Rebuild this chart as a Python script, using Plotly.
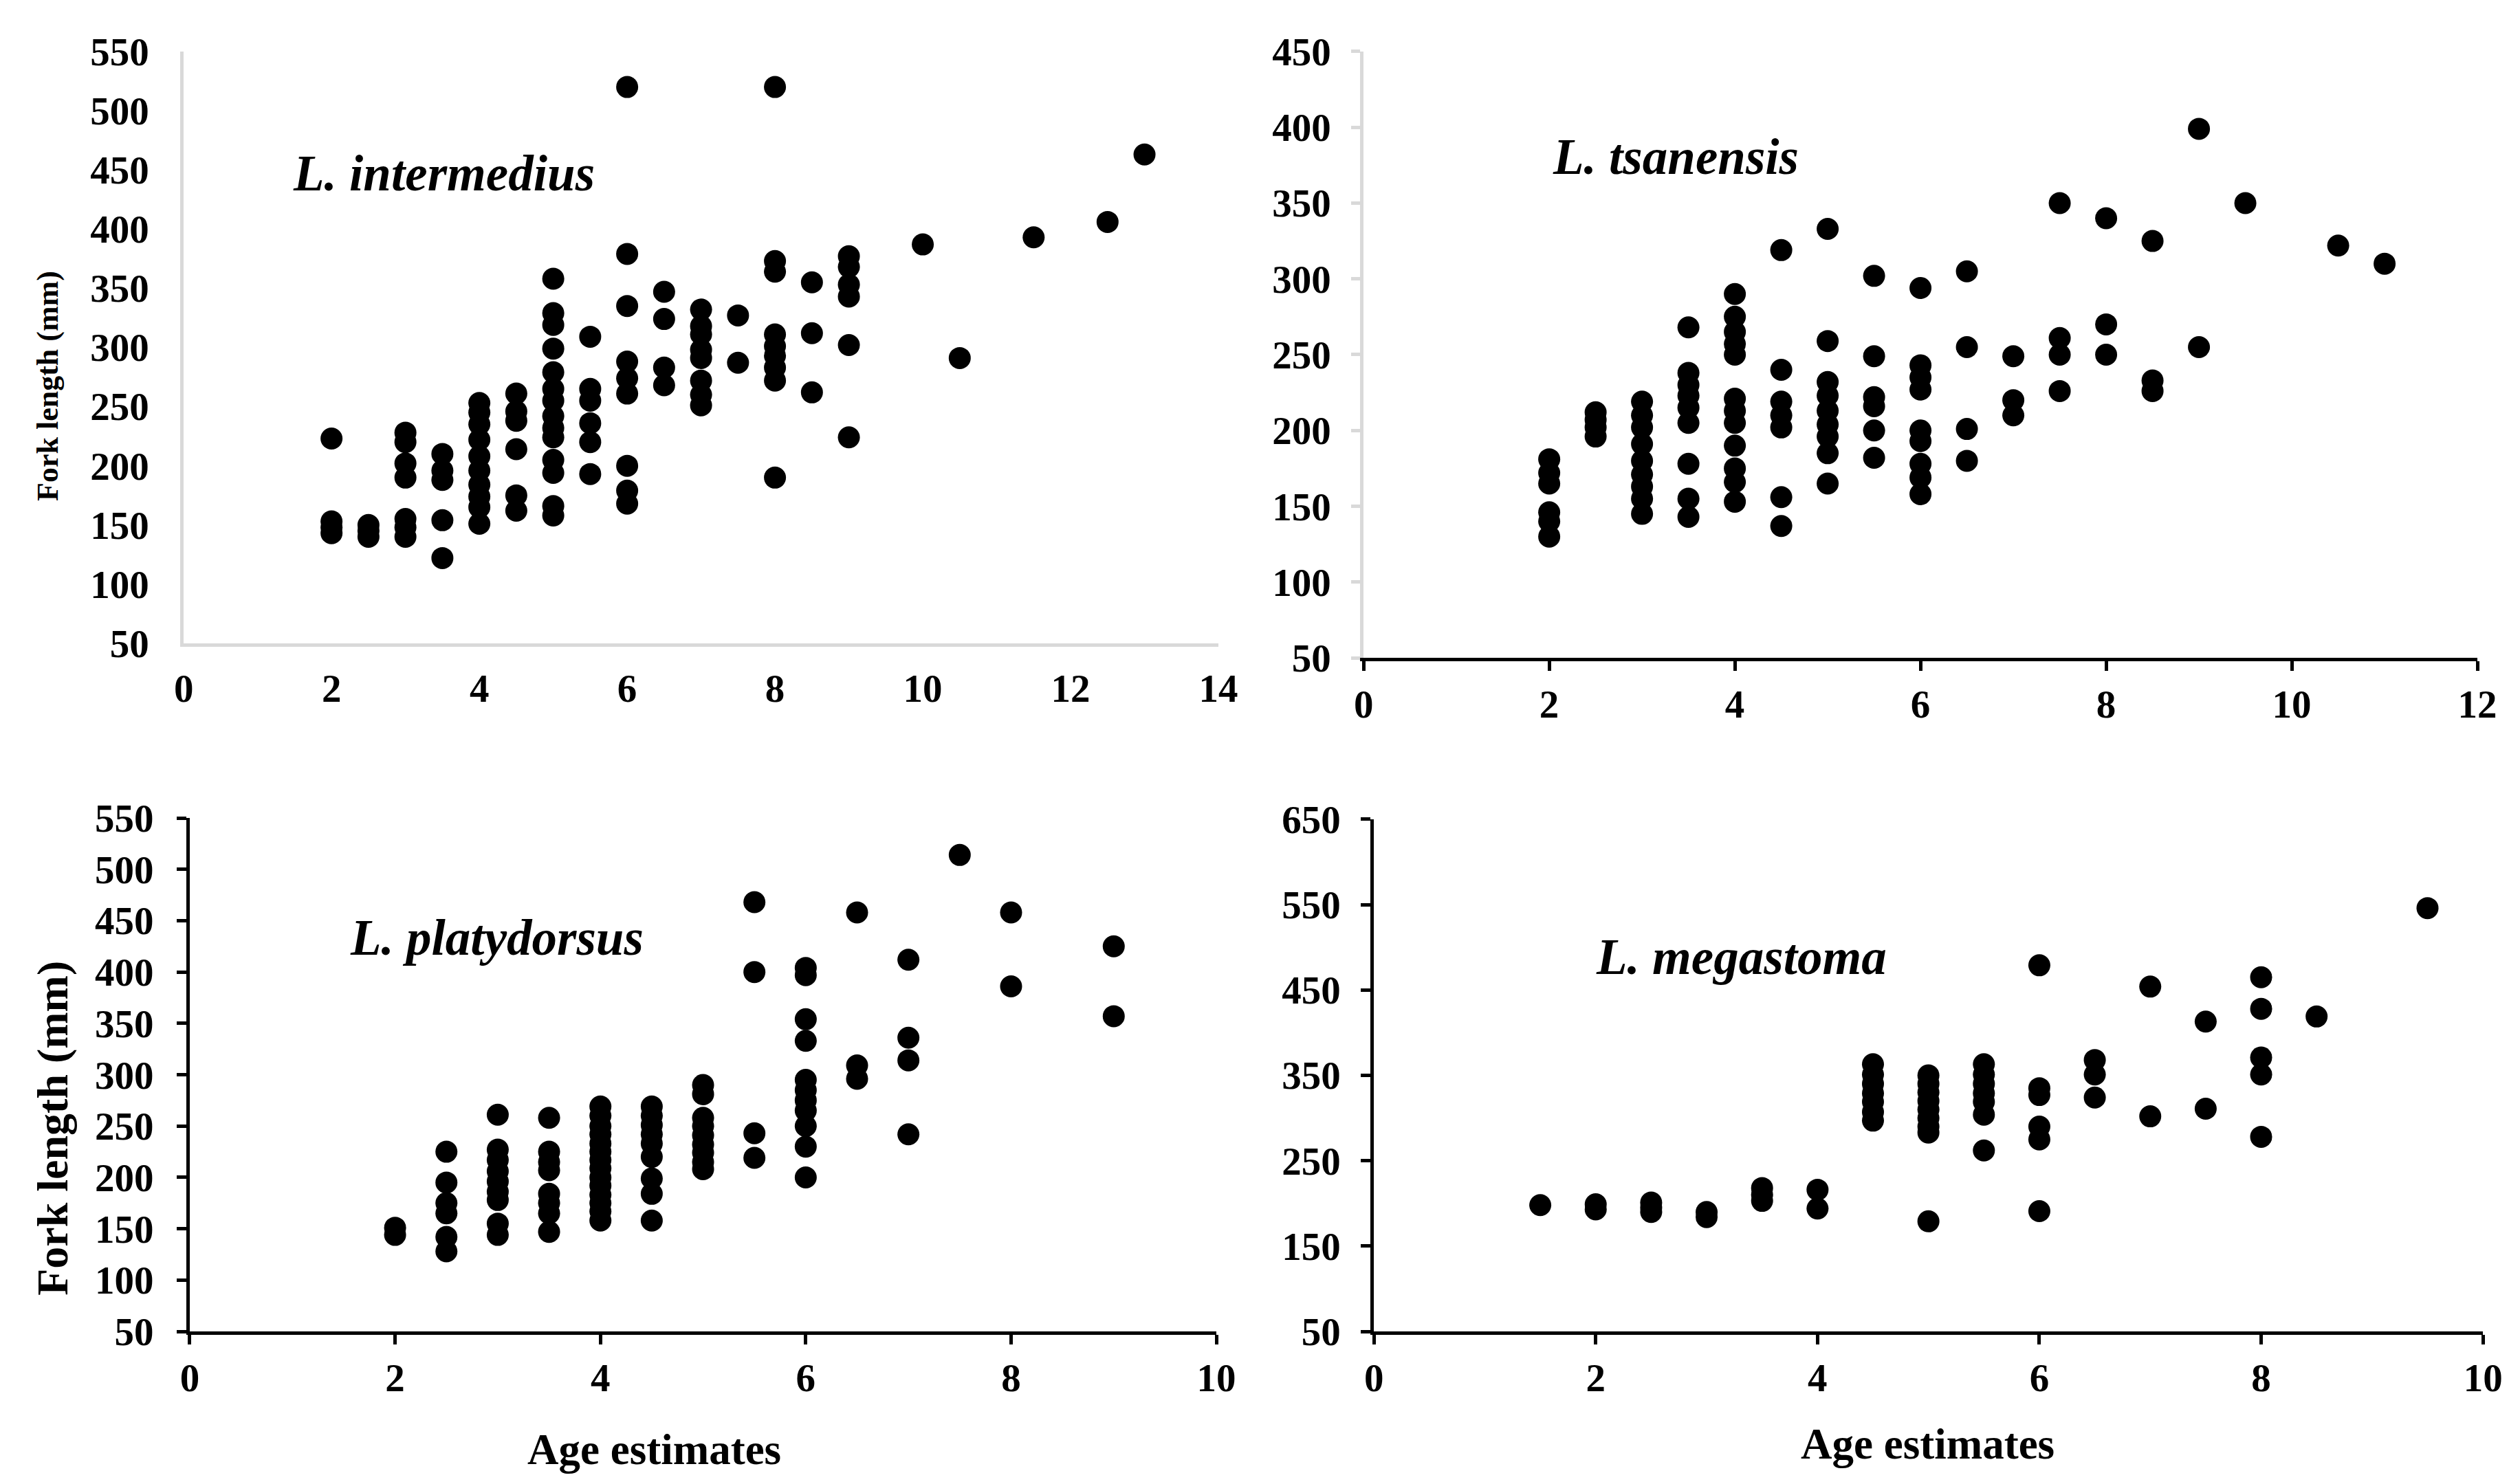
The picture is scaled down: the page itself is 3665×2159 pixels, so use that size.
import plotly.graph_objects as go

# ---------------- data ----------------
# L. intermedius
inter_age = [2, 2, 2, 2,
             2.5, 2.5, 2.5,
             3, 3, 3, 3, 3, 3, 3,
             3.5, 3.5, 3.5, 3.5, 3.5,
             4, 4, 4, 4, 4, 4, 4, 4, 4, 4,
             4.5, 4.5, 4.5, 4.5, 4.5, 4.5,
             5, 5, 5, 5, 5, 5, 5, 5, 5, 5, 5, 5, 5, 5,
             5.5, 5.5, 5.5, 5.5, 5.5, 5.5,
             6, 6, 6, 6, 6, 6, 6, 6, 6,
             6.5, 6.5, 6.5, 6.5,
             7, 7, 7, 7, 7, 7, 7, 7,
             7.5, 7.5,
             8, 8, 8, 8, 8, 8, 8, 8, 8,
             8.5, 8.5, 8.5,
             9, 9, 9, 9, 9, 9,
             10, 10.5, 11.5, 12.5, 13]
inter_len = [223, 153, 148, 143,
             150, 145, 140,
             228, 220, 202, 190, 155, 148, 140,
             210, 196, 188, 154, 122,
             253, 245, 235, 222, 208, 196, 184, 174, 165, 151,
             261, 246, 238, 214, 175, 162,
             358, 329, 319, 299, 279, 265, 255, 242, 232, 224, 205, 194, 166, 158,
             309, 265, 255, 236, 220, 193,
             520, 379, 335, 288, 274, 261, 200, 179, 168,
             347, 324, 283, 268,
             332, 318, 311, 298, 291, 272, 260, 251,
             327, 287,
             520, 373, 364, 311, 301, 293, 283, 272, 190,
             355, 312, 262,
             377, 368, 353, 343, 302, 224,
             387, 291, 393, 406, 463]

# L. tsanensis
tsan_age = [2, 2, 2, 2, 2, 2,
            2.5, 2.5, 2.5, 2.5,
            3, 3, 3, 3, 3, 3, 3, 3, 3,
            3.5, 3.5, 3.5, 3.5, 3.5, 3.5, 3.5, 3.5, 3.5,
            4, 4, 4, 4, 4, 4, 4, 4, 4, 4, 4, 4,
            4.5, 4.5, 4.5, 4.5, 4.5, 4.5, 4.5,
            5, 5, 5, 5, 5, 5, 5, 5, 5,
            5.5, 5.5, 5.5, 5.5, 5.5, 5.5,
            6, 6, 6, 6, 6, 6, 6, 6, 6,
            6.5, 6.5, 6.5, 6.5,
            7, 7, 7,
            7.5, 7.5, 7.5, 7.5,
            8, 8, 8,
            8.5, 8.5, 8.5,
            9, 9, 9.5, 10.5, 11]
tsan_len = [181, 172, 165, 146, 140, 130,
            212, 207, 202, 196,
            219, 210, 202, 191, 180, 171, 163, 155, 145,
            268, 238, 230, 223, 215, 205, 178, 155, 143,
            290, 275, 265, 257, 250, 221, 213, 205, 190, 175, 166, 153,
            319, 240, 219, 210, 202, 156, 137,
            333, 259, 232, 223, 213, 204, 196, 185, 165,
            302, 249, 222, 216, 200, 182,
            294, 243, 235, 227, 200, 193, 178, 169, 158,
            305, 255, 201, 180,
            249, 220, 210,
            350, 261, 250, 226,
            340, 270, 250,
            325, 233, 226,
            399, 255, 350, 322, 310]

# L. platydorsus
platy_age = [2, 2,
             2.5, 2.5, 2.5, 2.5, 2.5, 2.5,
             3, 3, 3, 3, 3, 3, 3, 3, 3,
             3.5, 3.5, 3.5, 3.5, 3.5, 3.5, 3.5, 3.5,
             4, 4, 4, 4, 4, 4, 4, 4, 4, 4, 4, 4, 4, 4,
             4.5, 4.5, 4.5, 4.5, 4.5, 4.5, 4.5, 4.5, 4.5,
             5, 5, 5, 5, 5, 5, 5, 5, 5,
             5.5, 5.5, 5.5, 5.5,
             6, 6, 6, 6, 6, 6, 6, 6, 6, 6, 6,
             6.5, 6.5, 6.5,
             7, 7, 7, 7,
             7.5, 8, 8, 9, 9]
platy_len = [151, 144,
             225, 195, 175, 165, 142, 128,
             261, 227, 217, 206, 196, 186, 178, 155, 144,
             258, 225, 215, 207, 184, 175, 165, 147,
             269, 260, 250, 242, 233, 225, 217, 209, 200, 192, 183, 175, 167, 158,
             269, 260, 251, 242, 233, 220, 199, 184, 158,
             290, 281, 258, 250, 241, 232, 224, 215, 208,
             468, 400, 243, 219,
             404, 397, 354, 333, 295, 285, 275, 265, 250, 230, 200,
             458, 309, 296,
             412, 336, 314, 242,
             514, 458, 386, 425, 357]

# L. megastoma
mega_age = [1.5, 2, 2,
            2.5, 2.5, 2.5,
            3, 3,
            3.5, 3.5, 3.5,
            4, 4,
            4.5, 4.5, 4.5, 4.5, 4.5, 4.5, 4.5,
            5, 5, 5, 5, 5, 5, 5, 5, 5,
            5.5, 5.5, 5.5, 5.5, 5.5, 5.5, 5.5,
            6, 6, 6, 6, 6, 6,
            6.5, 6.5, 6.5,
            7, 7,
            7.5, 7.5,
            8, 8, 8, 8, 8,
            8.5, 9.5]
mega_len = [198, 199, 193,
            201, 195, 190,
            190, 184,
            218, 210, 203,
            216, 194,
            363, 351, 340, 329, 319, 307, 297,
            350, 340, 330, 320, 310, 300, 290, 283, 179,
            363, 351, 340, 329, 319, 304, 262,
            479, 335, 327, 290, 275, 191,
            368, 351, 324,
            454, 302,
            413, 311,
            465, 428, 371, 351, 278,
            419, 546]

x_ticks_top_left = [0, 2, 4, 6, 8, 10, 12, 14]
x_ticks_top_right = [0, 2, 4, 6, 8, 10, 12]
x_ticks_bottom = [0, 2, 4, 6, 8, 10]
y_ticks_p1 = [50, 100, 150, 200, 250, 300, 350, 400, 450, 500, 550]
y_ticks_p2 = [50, 100, 150, 200, 250, 300, 350, 400, 450]
y_ticks_p3 = [50, 100, 150, 200, 250, 300, 350, 400, 450, 500, 550]
y_ticks_p4 = [50, 150, 250, 350, 450, 550, 650]

species = ["L. intermedius", "L. tsanensis", "L. platydorsus", "L. megastoma"]
y_title = "Fork length (mm)"
x_title = "Age estimates"

# ---------------- figure ----------------
FONT = "Liberation Serif"
TICKFONT = dict(family=FONT, size=57, color="black", weight="bold")
GRAY = "#d9d9d9"

fig = go.Figure()
series = [(inter_age, inter_len, "x", "y"),
          (tsan_age, tsan_len, "x2", "y2"),
          (platy_age, platy_len, "x3", "y3"),
          (mega_age, mega_len, "x4", "y4")]
for (xs, ys, xa, ya), name in zip(series, species):
    fig.add_trace(go.Scatter(x=xs, y=ys, mode="markers", name=name,
                             xaxis=xa, yaxis=ya,
                             marker=dict(size=32, color="black", line=dict(width=0)),
                             showlegend=False))


def xaxis(domain, anchor, rng, ticks, color, tickcolor, ticklen, standoff):
    return dict(domain=domain, anchor=anchor, range=rng, tickvals=ticks,
                showgrid=False, zeroline=False, showline=True, linecolor=color,
                linewidth=5, ticks="outside" if ticklen else "", ticklen=ticklen,
                tickwidth=5, tickcolor=tickcolor, tickfont=TICKFONT,
                ticklabelstandoff=standoff, fixedrange=True, automargin=False)


def yaxis(domain, anchor, rng, ticks, color, tickcolor, ticklen, standoff):
    return dict(domain=domain, anchor=anchor, range=rng, tickvals=ticks,
                showgrid=False, zeroline=False, showline=True, linecolor=color,
                linewidth=5, ticks="outside" if ticklen else "", ticklen=ticklen,
                tickwidth=5, tickcolor=tickcolor, tickfont=TICKFONT,
                ticklabelstandoff=standoff, fixedrange=True, automargin=False)


fig.update_layout(
    template="none",
    width=3665, height=2159,
    margin=dict(l=0, r=0, t=0, b=0, pad=0),
    paper_bgcolor="white", plot_bgcolor="white",
    xaxis=xaxis([0.0729, 0.4835], "y", [0, 14], x_ticks_top_left, GRAY, GRAY, 0, 12),
    yaxis=yaxis([0.5665, 0.9653], "x", [50, 550], y_ticks_p1, GRAY, GRAY, 0, 34),
    xaxis2=xaxis([0.5411, 0.9831], "y2", [0, 12], x_ticks_top_right, "black", "black", 14, 0),
    yaxis2=yaxis([0.5567, 0.9653], "x2", [50, 450], y_ticks_p2, GRAY, GRAY, 13, 18),
    xaxis3=xaxis([0.0753, 0.4827], "y3", [0, 10], x_ticks_bottom, "black", "black", 14, 0),
    yaxis3=yaxis([0.1028, 0.4488], "x3", [50, 550], y_ticks_p3, "black", "black", 14, 22),
    xaxis4=xaxis([0.5452, 0.9853], "y4", [0, 10], x_ticks_bottom, "black", "black", 14, 0),
    yaxis4=yaxis([0.1028, 0.4479], "x4", [50, 650], y_ticks_p4, "black", "black", 14, 18),
)

ann = []
label_pos = [(0.176, 0.883), (0.665, 0.894), (0.197, 0.368), (0.691, 0.355)]
for name, (ax, ay) in zip(species, label_pos):
    ann.append(dict(text=f"<b><i>{name}</i></b>", x=ax, y=ay, xref="paper", yref="paper",
                    showarrow=False, xanchor="center", yanchor="middle",
                    font=dict(family=FONT, size=73, color="black")))
# y axis titles
ann.append(dict(text=f"<b>{y_title}</b>", x=0.019, y=0.740, xref="paper", yref="paper",
                showarrow=False, textangle=-90, xanchor="center", yanchor="middle",
                font=dict(family=FONT, size=44, color="black")))
ann.append(dict(text=f"<b>{y_title}</b>", x=0.021, y=0.240, xref="paper", yref="paper",
                showarrow=False, textangle=-90, xanchor="center", yanchor="middle",
                font=dict(family=FONT, size=64, color="black")))
# x axis titles
ann.append(dict(text=f"<b>{x_title}</b>", x=0.2595, y=0.023, xref="paper", yref="paper",
                showarrow=False, xanchor="center", yanchor="middle",
                font=dict(family=FONT, size=63, color="black")))
ann.append(dict(text=f"<b>{x_title}</b>", x=0.765, y=0.027, xref="paper", yref="paper",
                showarrow=False, xanchor="center", yanchor="middle",
                font=dict(family=FONT, size=63, color="black")))
fig.update_layout(annotations=ann)

fig.write_html("out.html", config={"displayModeBar": False},
               post_script="document.body.style.margin='0px';")
